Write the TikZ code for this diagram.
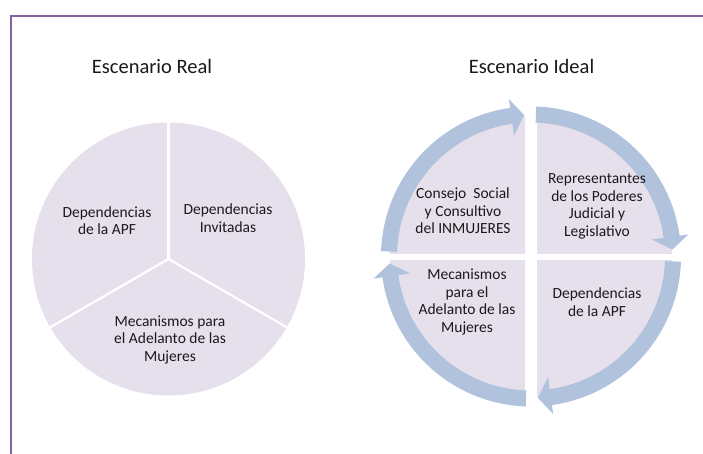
\documentclass[tikz,border=0pt]{standalone}
\usepackage{fontspec}
\setmainfont{Carlito}
\definecolor{framec}{HTML}{8064A2}
\definecolor{piec}{HTML}{E6E0EC}
\definecolor{arrowc}{HTML}{B0C2DC}
\definecolor{txtc}{HTML}{1A1A1A}
\tikzset{
  ttl/.style={anchor=base, text=txtc, font=\fontsize{20.5}{23}\selectfont, inner sep=0pt},
  lbl/.style={align=center, text=txtc, font=\fontsize{15.5}{17.5}\selectfont, inner sep=0pt},
  divider/.style={draw=white, line width=2.2pt},
  ringarrow/.style={fill=arrowc},
}
\begin{document}
\begin{tikzpicture}[x=1pt,y=-1pt]
\useasboundingbox (0,0) rectangle (703,454);
\fill[white] (0,0) rectangle (703,454);
% frame
\draw[framec, line width=1.6pt] (11,454) -- (11,16) -- (703,16);

% titles
\node[ttl] (treal) at (152,74) {Escenario Real};
\node[ttl] (tideal) at (531.5,74) {Escenario Ideal};

% left pie
\begin{scope}[shift={(168.5,259)}]
  \fill[piec] (0,0) circle[radius=136.5];
  \draw[divider] (0,0) -- (-90:137);
  \draw[divider] (0,0) -- (150:137);
  \draw[divider] (0,0) -- (30:137);
\end{scope}
\node[lbl] (lapf) at (107,220.5) {Dependencias\\de la APF};
\node[lbl] (linv) at (228,218) {Dependencias\\Invitadas};
\node[lbl] (lmec) at (170,339.5) {Mecanismos para\\el Adelanto de las\\Mujeres};

% right diagram
\begin{scope}[shift={(531,256.5)}]
  % quadrants
  \begin{scope}
    \clip (-150,-150) rectangle (-6,-3.5);
    \fill[piec] (0,0) circle[radius=141];
  \end{scope}
  \begin{scope}
    \clip (6,-150) rectangle (150,-3.5);
    \fill[piec] (0,0) circle[radius=141];
  \end{scope}
  \begin{scope}
    \clip (6,3.5) rectangle (150,150);
    \fill[piec] (0,0) circle[radius=141];
  \end{scope}
  \begin{scope}
    \clip (-150,3.5) rectangle (-6,150);
    \fill[piec] (0,0) circle[radius=141];
  \end{scope}
  % ring arrows (clockwise on the page)
  \foreach \A in {180,270,360,450}{
    \fill[ringarrow] (\A+2:150) arc[start angle=\A+2, end angle=\A+82, radius=150]
      -- (\A+82:159) -- (\A+87.2:141.5) -- (\A+82:122) -- (\A+82:134)
      arc[start angle=\A+82, end angle=\A+2, radius=134] -- cycle;
  }
\end{scope}
\node[lbl] (rcons) at (463,211) {Consejo\ \ Social\\y Consultivo\\del INMUJERES};
\node[lbl] (rrep) at (597,206.5) {Representantes\\de los Poderes\\Judicial y\\Legislativo};
\node[lbl] (rapf) at (597,302) {Dependencias\\de la APF};
\node[lbl] (rmec) at (467,302) {Mecanismos\\para el\\Adelanto de las\\Mujeres};
\end{tikzpicture}
\end{document}
